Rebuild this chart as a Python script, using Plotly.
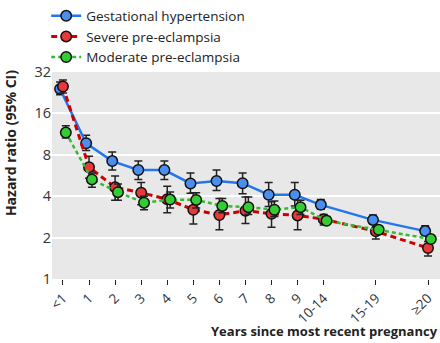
import plotly.graph_objects as go

# Years since most recent pregnancy (category positions on the x axis)
year_labels = ["<1", "1", "2", "3", "4", "5", "6", "7", "8", "9", "10-14", "15-19", "≥20"]
year_pos = [0, 1, 2, 3, 4, 5, 6, 7, 8, 9, 10, 12, 14]

# Hazard ratios with 95% confidence limits
gest_hr = [24.1, 9.7, 7.2, 6.2, 6.2, 4.95, 5.16, 4.97, 4.1, 4.1, 3.46, 2.69, 2.23]
gest_lo = [21.9, 8.6, 6.2, 5.3, 5.3, 4.2, 4.4, 4.17, 3.37, 3.4, 3.22, 2.51, 2.1]
gest_hi = [27.1, 11.1, 8.4, 7.2, 7.2, 5.9, 6.2, 5.9, 5.03, 5.03, 3.79, 2.92, 2.44]

severe_hr = [25.1, 6.5, 4.64, 4.24, 3.8, 3.19, 2.92, 3.14, 2.98, 2.9, 2.72, 2.22, 1.68]
severe_lo = [22.5, 5.4, 3.74, 3.46, 3.03, 2.51, 2.28, 2.53, 2.38, 2.28, 2.47, 1.95, 1.47]
severe_hi = [28.0, 7.8, 5.6, 5.03, 4.72, 4.24, 3.85, 3.95, 3.64, 3.74, 2.94, 2.4, 1.87]

moderate_hr = [11.6, 5.3, 4.28, 3.59, 3.78, 3.76, 3.4, 3.33, 3.19, 3.33, 2.65, 2.28, 1.95]
moderate_lo = [10.6, 4.65, 3.74, 3.19, 3.28, 3.28, 3.03, 2.95, 2.85, 2.95, 2.5, 2.15, 1.85]
moderate_hi = [13.0, 5.9, 4.9, 4.0, 4.3, 4.24, 3.85, 3.95, 3.69, 3.74, 2.85, 2.42, 2.05]

y_ticks = [1, 2, 4, 8, 16, 32]

FONT = "Open Sans"

# name, values, lower, upper, horizontal dodge, line colour, marker colour, dash, width
series = [
    ("Gestational hypertension", gest_hr, gest_lo, gest_hi, -0.11,
     "#2277ee", "#4a8ff0", "solid", 2.5),
    ("Severe pre-eclampsia", severe_hr, severe_lo, severe_hi, 0.0,
     "#cc0000", "#e8383a", "6px,4px", 3),
    ("Moderate pre-eclampsia", moderate_hr, moderate_lo, moderate_hi, 0.11,
     "#33bb33", "#33cc33", "4px,3px", 2.5),
]

fig = go.Figure()
for name, hr, lo, hi, dodge, lcol, mcol, dash, lw in series:
    fig.add_trace(go.Scatter(
        x=[p + dodge for p in year_pos],
        y=hr,
        name=name,
        mode="lines+markers",
        line=dict(color=lcol, width=lw, dash=dash),
        marker=dict(size=10.5, color=mcol, line=dict(color="#111111", width=1.5)),
        error_y=dict(
            type="data", symmetric=False,
            array=[h - v for h, v in zip(hi, hr)],
            arrayminus=[v - l for v, l in zip(hr, lo)],
            color="#222222", thickness=1.5, width=4,
        ),
    ))

fig.update_layout(
    width=440, height=343,
    margin=dict(l=52, r=0, t=63, b=64),
    paper_bgcolor="white",
    plot_bgcolor="#e8e8e8",
    font=dict(family=FONT, size=13, color="#222222"),
    showlegend=True,
    legend=dict(
        x=-0.015, xanchor="left", y=1.345, yanchor="top",
        bgcolor="rgba(0,0,0,0)", font=dict(size=13.5, color="#222222"),
        tracegroupgap=0,
    ),
    xaxis=dict(
        range=[-0.42, 14.46],
        tickvals=year_pos, ticktext=year_labels,
        tickangle=-45,
        ticks="outside", ticklen=5, tickcolor="#222222", tickwidth=1,
        showgrid=False, zeroline=False, showline=False,
        tickfont=dict(size=13.5, color="#333333"),
    ),
    yaxis=dict(
        type="log",
        range=[0, 1.50515],
        tickvals=y_ticks, ticktext=[str(t) for t in y_ticks],
        showgrid=True, gridcolor="white", gridwidth=2,
        zeroline=False, showline=False, ticks="",
        tickfont=dict(size=14.5, color="#333333"),
    ),
    annotations=[
        dict(text="<b>Years since most recent pregnancy</b>", xref="paper", yref="paper",
             x=1.0, y=-0.25, xanchor="right", yanchor="middle", showarrow=False,
             font=dict(size=13, color="#222222")),
        dict(text="<b>Hazard ratio (95% CI)</b>", xref="paper", yref="paper",
             x=-0.108, y=0.657, xanchor="center", yanchor="middle", textangle=-90,
             showarrow=False, font=dict(size=14, color="#222222")),
    ],
)

fig.write_html("out.html")
